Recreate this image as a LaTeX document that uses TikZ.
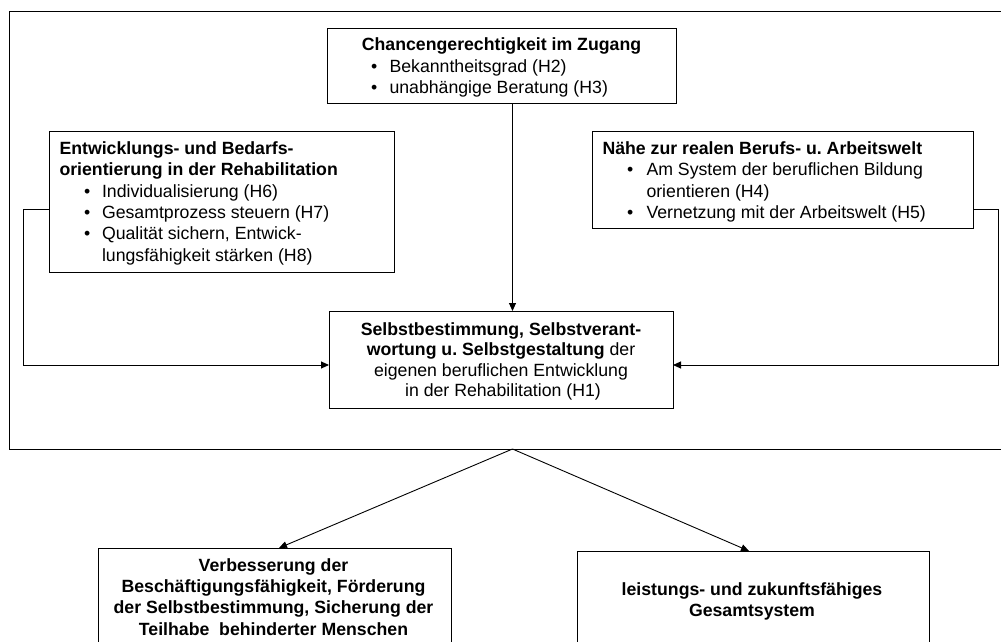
\documentclass[tikz,border=0pt]{standalone}
\usepackage{fontspec}
\setmainfont{Liberation Sans}
\usetikzlibrary{arrows.meta}
\frenchspacing
\newcommand{\fs}{\fontsize{17.7}{21}\selectfont\frenchspacing}
\begin{document}
\begin{tikzpicture}[x=1pt,y=-1pt,
  box/.style={draw, line width=0.9pt, rectangle, inner sep=0pt, outer sep=0pt},
  tl/.style={inner sep=0pt, outer sep=0pt, anchor=base west, font=\fs},
  tc/.style={inner sep=0pt, outer sep=0pt, anchor=base, font=\fs},
  arr/.style={line width=0.9pt, -{Triangle[length=8pt,width=7pt]}},
  conn/.style={line width=0.9pt}]
\useasboundingbox (0,0) rectangle (1001,642);
% boxes
\node[box, minimum width=996pt, minimum height=438pt] (frame) at (507,230) {};
\node[box, minimum width=349pt, minimum height=75pt] (chan) at (501.5,65.5) {};
\node[box, minimum width=345pt, minimum height=141pt] (lbox) at (221.5,201.5) {};
\node[box, minimum width=381pt, minimum height=97pt] (rbox) at (782.5,179.5) {};
\node[box, minimum width=344pt, minimum height=97pt] (mid) at (501,359.5) {};
\node[box, minimum width=353pt, minimum height=117pt] (bl) at (274.5,606.5) {};
\node[box, minimum width=352pt, minimum height=114pt] (br) at (753,608) {};
% Chancen text
\node[tc] (c0) at (501.5,50.7) {\textbf{Chancengerechtigkeit im Zugang}};
\node[tl] (c1b) at (371,72) {•};
\node[tl] (c1) at (389.5,72) {Bekanntheitsgrad (H2)};
\node[tl] (c2b) at (371,93.2) {•};
\node[tl] (c2) at (389.5,93.2) {unabhängige Beratung (H3)};
% left box text
\node[tl] (l0) at (59.5,154.5) {\textbf{Entwicklungs- und Bedarfs-}};
\node[tl] (l1) at (59.5,175.8) {\textbf{orientierung in der Rehabilitation}};
\node[tl] (l2b) at (84,197.1) {•};
\node[tl] (l2) at (102,197.1) {Individualisierung (H6)};
\node[tl] (l3b) at (84,218.4) {•};
\node[tl] (l3) at (102,218.4) {Gesamtprozess steuern (H7)};
\node[tl] (l4b) at (84,239.7) {•};
\node[tl] (l4) at (102,239.7) {Qualität sichern, Entwick-};
\node[tl] (l5) at (102,261) {lungsfähigkeit stärken (H8)};
% right box text
\node[tl] (r0) at (602.5,154.5) {\textbf{Nähe zur realen Berufs- u. Arbeitswelt}};
\node[tl] (r1b) at (627,175.8) {•};
\node[tl] (r1) at (646.5,175.8) {Am System der beruflichen Bildung};
\node[tl] (r2) at (646.5,197.1) {orientieren (H4)};
\node[tl] (r3b) at (627,218.4) {•};
\node[tl] (r3) at (646.5,218.4) {Vernetzung mit der Arbeitswelt (H5)};
% middle text
\node[tc] (m0) at (501,335) {\textbf{Selbstbestimmung, Selbstverant-}};
\node[tc] (m1) at (501,355.6) {\textbf{wortung u. Selbstgestaltung} der};
\node[tc] (m2) at (501,376.2) {eigenen beruflichen Entwicklung};
\node[tc] (m3) at (503,396.8) {in der Rehabilitation (H1)};
% bottom left text
\node[tc] (b0) at (273.5,571.7) {\textbf{Verbesserung der}};
\node[tc] (b1) at (273.5,592.8) {\textbf{Beschäftigungsfähigkeit, Förderung}};
\node[tc] (b2) at (273.5,613.9) {\textbf{der Selbstbestimmung, Sicherung der}};
\node[tc] (b3) at (273.5,635) {\textbf{Teilhabe\ \ behinderter Menschen}};
% bottom right text
\node[tc] (d0) at (752,595) {\textbf{leistungs- und zukunftsfähiges}};
\node[tc] (d1) at (752,616) {\textbf{Gesamtsystem}};
% helper coordinates
\coordinate (lrow) at (0,209);
\coordinate (mrow) at (0,365);
\coordinate (lx) at (23.3,0);
\coordinate (rx) at (998.3,0);
\coordinate (ax) at (512.5,449);
\coordinate (blx) at (279,0);
\coordinate (brx) at (749,0);
% connectors
\draw[arr] (chan.south -| ax) -- (mid.north -| ax);
\draw[arr] (lbox.west |- lrow) -- (lx |- lrow) -- (lx |- mrow) -- (mid.west |- mrow);
\draw[arr] (rbox.east |- lrow) -- (rx |- lrow) -- (rx |- mrow) -- (mid.east |- mrow);
\draw[arr] (ax) -- (bl.north -| blx);
\draw[arr] (ax) -- (br.north -| brx);
\end{tikzpicture}
\end{document}
